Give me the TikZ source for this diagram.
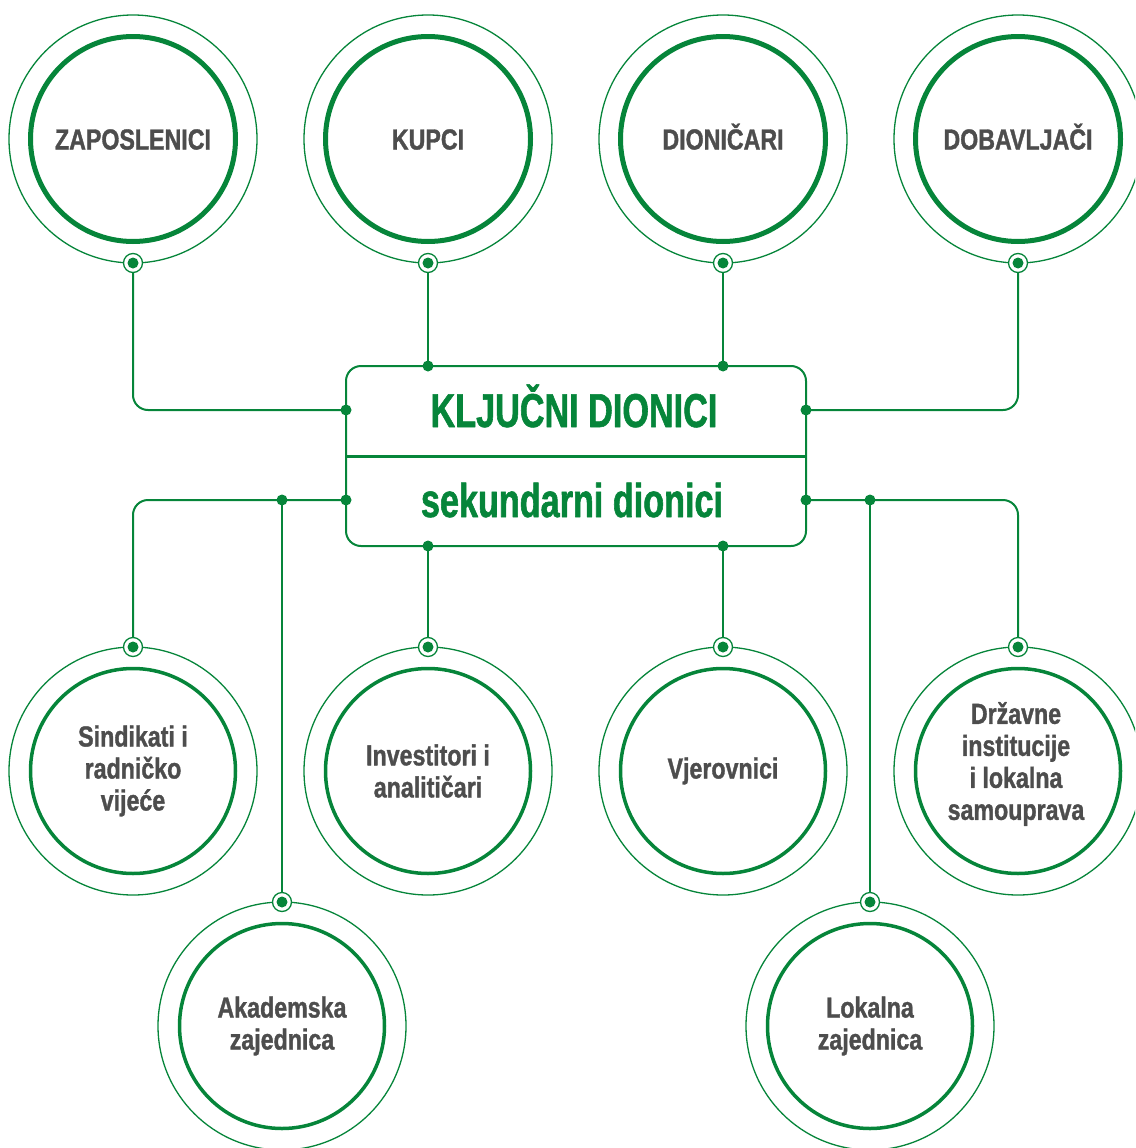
\documentclass[tikz,border=0pt]{standalone}
\usepackage{fontspec}
\newfontfamily\uska{Liberation Sans Bold}[FakeStretch=0.8, FakeBold=1.2]
\newfontfamily\uzak{Liberation Sans Bold}[FakeStretch=0.72, FakeBold=1.2]
\definecolor{zelena}{RGB}{6,133,58}
\definecolor{siva}{RGB}{77,77,77}
\begin{document}
\begin{tikzpicture}[x=1pt, y=-1pt, line join=round, line cap=round,
	vanjski/.style={circle, draw=zelena, line width=1.3pt, minimum size=248pt, inner sep=0pt, outer sep=0pt},
	natpis/.style={text=siva, align=center, inner sep=0pt, font=\uska\fontsize{29}{32}\selectfont},
	gornji/.style={natpis, circle, draw=zelena, line width=5pt, minimum size=205pt, text height=21pt, text depth=0pt},
	donji/.style={natpis, circle, draw=zelena, line width=3.5pt, minimum size=205pt},
	okvir/.style={draw=zelena, line width=2pt, rounded corners=15pt, minimum width=460pt, minimum height=180pt, outer sep=0pt},
	naslov/.style={text=zelena, inner sep=0pt, text height=34pt, text depth=0pt, font=\uzak\fontsize{47.5}{50}\selectfont},
	veza/.style={draw=zelena, line width=2pt, rounded corners=15pt},
	prsten/.style={circle, draw=zelena, fill=white, line width=1.3pt, minimum size=19pt, inner sep=0pt,
		path picture={\fill[zelena] (path picture bounding box.center) circle (5.5pt);}}]
\useasboundingbox (0,0) rectangle (1135,1148);
\clip (0,0) rectangle (1135,1148);

% sredisnji okvir
\node[okvir] (kd) at (576,456) {};
\draw[zelena, line width=3pt, line cap=butt] (kd.west) -- (kd.east);
\node[naslov] (klj) at (574,410) {KLJUČNI DIONICI};
\node[naslov] (sek) at (572,500) {sekundarni dionici};

% kljucni dionici
\node[vanjski] (zap) at (133,139) {};
\node[gornji] (zapu) at (zap) {ZAPOSLENICI};
\node[vanjski] (kup) at (428,139) {};
\node[gornji] (kupu) at (kup) {KUPCI};
\node[vanjski] (dio) at (723,139) {};
\node[gornji] (diou) at (dio) {DIONIČARI};
\node[vanjski] (dob) at (1018,139) {};
\node[gornji] (dobu) at (dob) {DOBAVLJAČI};

% sekundarni dionici
\node[vanjski] (sin) at (133,771) {};
\node[donji] (sinu) at (sin) {Sindikati i\\radničko\\vijeće};
\node[vanjski] (inv) at (428,771) {};
\node[donji] (invu) at (inv) {Investitori i\\analitičari};
\node[vanjski] (vje) at (723,771) {};
\node[donji] (vjeu) at (vje) {Vjerovnici};
\node[vanjski] (drz) at (1018,771) {};
\node[donji] (drzu) at (drz) {};
\node[natpis] (drzt) at (1016,764) {Državne\\institucije\\i lokalna\\samouprava};
\node[vanjski] (aka) at (282,1026) {};
\node[donji] (akau) at (aka) {Akademska\\zajednica};
\node[vanjski] (lok) at (870,1026) {};
\node[donji] (loku) at (lok) {Lokalna\\zajednica};

% veze
\draw[veza] (zap.south) |- (kd.west |- klj);
\draw[veza] (kup.south) -- (kup.south |- kd.north);
\draw[veza] (dio.south) -- (dio.south |- kd.north);
\draw[veza] (dob.south) |- (kd.east |- klj);
\draw[veza] (kd.west |- sek) -| (sin.north);
\draw[veza] (aka.north |- sek) -- (aka.north);
\draw[veza] (inv.north |- kd.south) -- (inv.north);
\draw[veza] (vje.north |- kd.south) -- (vje.north);
\draw[veza] (kd.east |- sek) -| (drz.north);
\draw[veza] (lok.north |- sek) -- (lok.north);

% tocke na okviru
\fill[zelena] (kd.west |- klj) circle (5.5pt) (kup.south |- kd.north) circle (5.5pt)
	(dio.south |- kd.north) circle (5.5pt) (kd.east |- klj) circle (5.5pt)
	(kd.west |- sek) circle (5.5pt) (aka.north |- sek) circle (5.5pt)
	(inv.north |- kd.south) circle (5.5pt) (vje.north |- kd.south) circle (5.5pt)
	(kd.east |- sek) circle (5.5pt) (lok.north |- sek) circle (5.5pt);

% prstenovi
\node[prsten] (zapp) at (zap.south) {};
\node[prsten] (kupp) at (kup.south) {};
\node[prsten] (diop) at (dio.south) {};
\node[prsten] (dobp) at (dob.south) {};
\node[prsten] (sinp) at (sin.north) {};
\node[prsten] (invp) at (inv.north) {};
\node[prsten] (vjep) at (vje.north) {};
\node[prsten] (drzp) at (drz.north) {};
\node[prsten] (akap) at (aka.north) {};
\node[prsten] (lokp) at (lok.north) {};
\end{tikzpicture}
\end{document}
